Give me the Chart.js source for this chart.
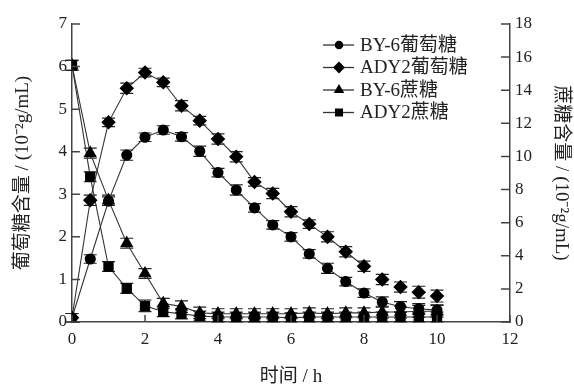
<!doctype html>
<html lang="zh">
<head>
    <meta charset="utf-8">
    <title>葡萄糖与蔗糖含量</title>
    <script src="https://cdn.jsdelivr.net/npm/chart.js@4.4.1/dist/chart.umd.min.js"></script>
    <style>
        body { margin: 0; background: #fff; }
        #wrap { width: 574px; height: 385px; position: relative; }
    </style>
</head>
<body>
<div id="wrap">
    <canvas id="sugarCanvas"></canvas>
</div>

<script>
    // sampling times (h)
    let times = [0, 0.5, 1, 1.5, 2, 2.5, 3, 3.5, 4, 4.5, 5, 5.5, 6, 6.5, 7, 7.5, 8, 8.5, 9, 9.5, 10];

    // glucose, left axis (10^-2 g/mL)
    let by6Glucose = [0.1, 1.48, 2.84, 3.92, 4.34, 4.51, 4.35, 4.01, 3.51, 3.10, 2.68, 2.28, 2.00, 1.60, 1.26, 0.95, 0.68, 0.47, 0.36, 0.31, 0.28];
    let by6GlucoseErr = [0.1, 0.1, 0.1, 0.12, 0.1, 0.1, 0.1, 0.12, 0.1, 0.12, 0.1, 0.1, 0.1, 0.1, 0.12, 0.1, 0.1, 0.12, 0.12, 0.12, 0.12];
    let ady2Glucose = [0.1, 2.86, 4.69, 5.49, 5.86, 5.63, 5.08, 4.73, 4.30, 3.88, 3.29, 3.02, 2.59, 2.30, 2.00, 1.65, 1.31, 1.00, 0.82, 0.70, 0.61];
    let ady2GlucoseErr = [0.1, 0.12, 0.1, 0.12, 0.1, 0.1, 0.12, 0.1, 0.12, 0.12, 0.1, 0.12, 0.12, 0.1, 0.12, 0.12, 0.12, 0.12, 0.12, 0.14, 0.14];

    // sucrose, right axis (10^-2 g/mL)
    let by6Sucrose = [15.5, 10.2, 7.36, 4.76, 2.93, 1.13, 0.93, 0.55, 0.5, 0.5, 0.5, 0.5, 0.5, 0.55, 0.5, 0.55, 0.55, 0.6, 0.6, 0.65, 0.65];
    let by6SucroseErr = [0.3, 0.3, 0.3, 0.3, 0.3, 0.3, 0.35, 0.35, 0.3, 0.3, 0.3, 0.3, 0.3, 0.3, 0.3, 0.3, 0.3, 0.35, 0.35, 0.35, 0.35];
    let ady2Sucrose = [15.5, 8.77, 3.35, 2.03, 0.98, 0.62, 0.49, 0.36, 0.3, 0.3, 0.3, 0.3, 0.25, 0.3, 0.3, 0.3, 0.3, 0.3, 0.3, 0.3, 0.3];
    let ady2SucroseErr = [0.3, 0.3, 0.3, 0.3, 0.35, 0.3, 0.3, 0.3, 0.3, 0.3, 0.3, 0.3, 0.3, 0.3, 0.3, 0.3, 0.3, 0.3, 0.3, 0.3, 0.3];

    let xTicks = [0, 2, 4, 6, 8, 10, 12];
    let leftTicks = [0, 1, 2, 3, 4, 5, 6, 7];
    let rightTicks = [0, 2, 4, 6, 8, 10, 12, 14, 16, 18];

    let latin = "'Liberation Serif', 'Times New Roman', serif";
    let mixed = "'Liberation Serif', 'Noto Sans CJK SC', serif";
    let ink = '#222';
    let lineColor = '#333';

    function toPoints(values, errs) {
        return values.map(function (v, i) {
            return {x: times[i], y: v, err: errs[i]};
        });
    }

    function makeDataset(label, values, errs, axis, style, radius, legendRadius) {
        return {
            label: label,
            data: toPoints(values, errs),
            yAxisID: axis,
            borderColor: lineColor,
            borderWidth: 1.1,
            backgroundColor: '#000',
            pointBackgroundColor: '#000',
            pointBorderColor: '#000',
            pointStyle: style,
            pointRadius: radius,
            pointHoverRadius: radius,
            legendRadius: legendRadius,
            tension: 0
        };
    }

    let datasets = [
        makeDataset('BY-6葡萄糖', by6Glucose, by6GlucoseErr, 'y', 'circle', 5, 3.6),
        makeDataset('ADY2葡萄糖', ady2Glucose, ady2GlucoseErr, 'y', 'rectRot', 6.5, 5),
        makeDataset('BY-6蔗糖', by6Sucrose, by6SucroseErr, 'y1', 'triangle', 6.5, 4.8),
        makeDataset('ADY2蔗糖', ady2Sucrose, ady2SucroseErr, 'y1', 'rect', 6.5, 4.8)
    ];
    // the ADY2 glucose curve is not joined after 8 h
    datasets[1].segment = {
        borderColor: function (ctx) {
            return ctx.p0DataIndex >= 16 ? 'rgba(0,0,0,0)' : lineColor;
        }
    };

    // error bars with caps, drawn under the markers
    const errorBars = {
        id: 'errorBars',
        beforeDatasetsDraw(chart) {
            const ctx = chart.ctx;
            ctx.save();
            ctx.strokeStyle = '#222';
            ctx.lineWidth = 1.2;
            chart.data.datasets.forEach(function (ds, i) {
                const meta = chart.getDatasetMeta(i);
                const yScale = chart.scales[ds.yAxisID];
                meta.data.forEach(function (pt, j) {
                    const d = ds.data[j];
                    const top = yScale.getPixelForValue(d.y + d.err);
                    const bot = yScale.getPixelForValue(Math.max(d.y - d.err, 0));
                    ctx.beginPath();
                    ctx.moveTo(pt.x, top);
                    ctx.lineTo(pt.x, bot);
                    ctx.moveTo(pt.x - 6.5, top);
                    ctx.lineTo(pt.x + 6.5, top);
                    ctx.moveTo(pt.x - 6.5, bot);
                    ctx.lineTo(pt.x + 6.5, bot);
                    ctx.stroke();
                });
            });
            ctx.restore();
        }
    };

    // inward tick marks and the legend with line + marker
    const decorations = {
        id: 'decorations',
        afterDraw(chart) {
            const ctx = chart.ctx;
            const area = chart.chartArea;
            ctx.save();
            ctx.strokeStyle = '#444';
            ctx.lineWidth = 1.5;
            ctx.beginPath();
            leftTicks.forEach(function (v) {
                const y = chart.scales.y.getPixelForValue(v);
                ctx.moveTo(area.left, y);
                ctx.lineTo(area.left + 8, y);
            });
            rightTicks.forEach(function (v) {
                const y = chart.scales.y1.getPixelForValue(v);
                ctx.moveTo(area.right, y);
                ctx.lineTo(area.right - 9, y);
            });
            xTicks.forEach(function (v) {
                const x = chart.scales.x.getPixelForValue(v);
                ctx.moveTo(x, area.bottom);
                ctx.lineTo(x, area.bottom - 7);
            });
            ctx.stroke();

            let rowY = 45;
            chart.data.datasets.forEach(function (ds) {
                ctx.strokeStyle = lineColor;
                ctx.lineWidth = 1.3;
                ctx.beginPath();
                ctx.moveTo(323, rowY);
                ctx.lineTo(354, rowY);
                ctx.stroke();
                ctx.fillStyle = '#000';
                ctx.strokeStyle = '#000';
                Chart.helpers.drawPoint(ctx, {
                    pointStyle: ds.pointStyle,
                    radius: ds.legendRadius,
                    borderWidth: 1
                }, 339, rowY);
                ctx.fillStyle = ink;
                ctx.font = '19px ' + mixed;
                ctx.textBaseline = 'middle';
                ctx.textAlign = 'left';
                ctx.fillText(ds.label, 360, rowY + 1);
                rowY += 22.5;
            });
            ctx.restore();
        }
    };

    function tickValues(list) {
        return function (scale) {
            scale.ticks = list.map(function (v) { return {value: v}; });
        };
    }

    let sugarChart = new Chart(document.getElementById('sugarCanvas'), {
        type: 'line',
        data: {datasets: datasets},
        plugins: [errorBars, decorations],
        options: {
            responsive: true,
            maintainAspectRatio: false,
            animation: false,
            layout: {padding: {top: 24, left: 0, right: 0, bottom: 0}},
            plugins: {
                legend: {display: false},
                tooltip: {enabled: false}
            },
            scales: {
                x: {
                    type: 'linear',
                    min: 0,
                    max: 12,
                    afterBuildTicks: tickValues(xTicks),
                    afterFit: function (scale) { scale.height = 63; },
                    grid: {display: false, drawTicks: false},
                    border: {display: true, color: '#444', width: 1.5},
                    ticks: {color: ink, padding: 7, font: {family: latin, size: 17}},
                    title: {
                        display: true,
                        text: '时间 / h',
                        color: ink,
                        padding: {top: 0, bottom: -2},
                        font: {family: mixed, size: 19, lineHeight: 1}
                    }
                },
                y: {
                    position: 'left',
                    min: 0,
                    max: 7,
                    afterBuildTicks: tickValues(leftTicks),
                    afterFit: function (scale) { scale.width = 72; },
                    grid: {display: false, drawTicks: false},
                    border: {display: true, color: '#444', width: 1.5},
                    ticks: {color: ink, padding: 5, font: {family: latin, size: 17}},
                    title: {
                        display: true,
                        text: '葡萄糖含量 / (10⁻²g/mL)',
                        color: ink,
                        padding: {top: 14, bottom: 0},
                        font: {family: mixed, size: 19, lineHeight: 1}
                    }
                },
                y1: {
                    position: 'right',
                    min: 0,
                    max: 18,
                    afterBuildTicks: tickValues(rightTicks),
                    afterFit: function (scale) { scale.width = 64; },
                    grid: {display: false, drawTicks: false},
                    border: {display: true, color: '#444', width: 1.5},
                    ticks: {color: ink, padding: 5, font: {family: latin, size: 17}},
                    title: {
                        display: true,
                        text: '蔗糖含量 / (10⁻²g/mL)',
                        color: ink,
                        padding: {top: 4, bottom: 0},
                        font: {family: mixed, size: 19, lineHeight: 1}
                    }
                }
            }
        }
    });
</script>
</body>
</html>
